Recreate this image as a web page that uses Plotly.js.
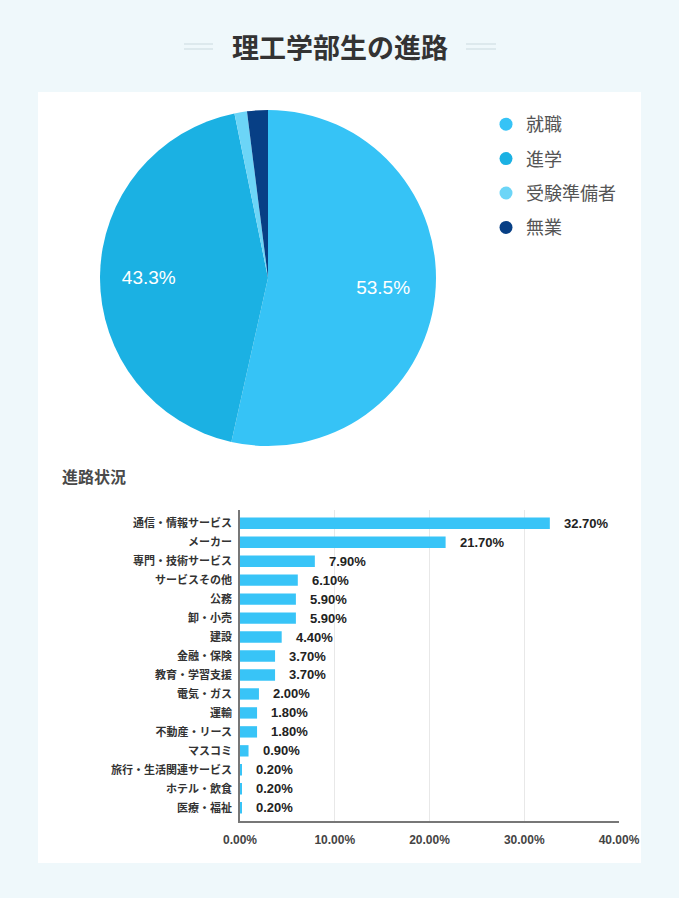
<!DOCTYPE html>
<html>
<head>
<meta charset="utf-8">
<script src="https://cdn.plot.ly/plotly-3.0.1.min.js"></script>
<style>
html,body{margin:0;padding:0;background:#eff8fb;}
#chart{width:679px;height:898px;}
</style>
</head>
<body>
<div id="chart"></div>
<script>
// ---- data ----
const chartTitle = "理工学部生の進路";
const pieLabels = ["就職", "進学", "受験準備者", "無業"];
const pieValues = [53.5, 43.3, 1.2, 2.0];
const pieText = ["53.5%", "43.3%", "", ""];
const pieColors = ["#36c3f6", "#1bb1e3", "#6cd5f7", "#073f85"];

const barTitle = "進路状況";
const barCategories = ["通信・情報サービス", "メーカー", "専門・技術サービス", "サービスその他", "公務", "卸・小売", "建設", "金融・保険", "教育・学習支援", "電気・ガス", "運輸", "不動産・リース", "マスコミ", "旅行・生活関連サービス", "ホテル・飲食", "医療・福祉"];
const barValues = [32.7, 21.7, 7.9, 6.1, 5.9, 5.9, 4.4, 3.7, 3.7, 2.0, 1.8, 1.8, 0.9, 0.2, 0.2, 0.2];
const barTickVals = [0, 10, 20, 30, 40];

// ---- layout helpers (pixel -> paper) ----
const W = 679, H = 898;
const fx = p => p / W;
const fy = p => 1 - p / H;
const JP = "Liberation Sans, Arial, Noto Sans CJK JP, sans-serif";

// push slice labels outward (padding with non-breaking spaces)
const NB = "\u00A0";
const padLeft = [12, 0, 0, 0];
const padRight = [0, 13, 0, 0];
const pieShownText = pieText.map((t, i) => t ? NB.repeat(padLeft[i]) + t + NB.repeat(padRight[i]) : t);

const traces = [];

traces.push({
  type: "pie",
  labels: pieLabels,
  values: pieValues,
  text: pieShownText,
  textinfo: "text",
  textposition: "inside",
  insidetextorientation: "horizontal",
  sort: false,
  direction: "clockwise",
  rotation: 0,
  marker: {colors: pieColors, line: {width: 0}},
  textfont: {family: JP, size: 19, color: "#ffffff"},
  domain: {x: [fx(100), fx(436)], y: [fy(446), fy(110)]},
  showlegend: false,
  hoverinfo: "label+percent"
});

pieLabels.forEach((lab, i) => {
  traces.push({
    type: "scatter",
    mode: "markers",
    x: [null], y: [null],
    xaxis: "x2", yaxis: "y2",
    name: lab,
    legendgroup: "g" + i,
    marker: {color: pieColors[i], size: 13, symbol: "circle"},
    showlegend: true
  });
});

traces.push({
  type: "bar",
  orientation: "h",
  x: barValues,
  y: barCategories,
  marker: {color: "#38c4f7"},
  width: 0.6,
  showlegend: false,
  hovertemplate: "%{y}: %{x:.2f}%<extra></extra>"
});

const annotations = [
  {text: "<b>" + chartTitle + "</b>", x: 0.5, y: fy(47), xref: "paper", yref: "paper",
   xanchor: "center", yanchor: "middle", showarrow: false,
   font: {family: "Noto Sans CJK JP, sans-serif", size: 27, color: "#333333"}},
  {text: "<b>" + barTitle + "</b>", x: fx(60), y: fy(476), xref: "paper", yref: "paper",
   xanchor: "left", yanchor: "middle", showarrow: false,
   font: {family: "Noto Sans CJK JP, sans-serif", size: 16, color: "#4a4a4a"}}
];
barValues.forEach((v, i) => {
  annotations.push({
    text: v.toFixed(2) + "%", x: v, y: barCategories[i], xref: "x", yref: "y",
    xanchor: "left", yanchor: "middle", xshift: 12, showarrow: false,
    font: {family: JP, size: 13, color: "#222222", weight: "bold"}
  });
});

const lineCol = "#dde9ed";
const shapes = [
  {type: "rect", xref: "paper", yref: "paper", x0: fx(38), x1: fx(641), y0: fy(863), y1: fy(92),
   fillcolor: "#ffffff", line: {width: 0}, layer: "below"},
  {type: "line", xref: "paper", yref: "paper", x0: fx(184), x1: fx(213), y0: fy(44), y1: fy(44), line: {color: lineCol, width: 2}},
  {type: "line", xref: "paper", yref: "paper", x0: fx(184), x1: fx(213), y0: fy(49), y1: fy(49), line: {color: lineCol, width: 2}},
  {type: "line", xref: "paper", yref: "paper", x0: fx(466), x1: fx(496), y0: fy(44), y1: fy(44), line: {color: lineCol, width: 2}},
  {type: "line", xref: "paper", yref: "paper", x0: fx(466), x1: fx(496), y0: fy(49), y1: fy(49), line: {color: lineCol, width: 2}}
];

const layout = {
  width: W, height: H,
  margin: {l: 0, r: 0, t: 0, b: 0, pad: 0},
  paper_bgcolor: "#eff8fb",
  plot_bgcolor: "rgba(0,0,0,0)",
  font: {family: JP},
  showlegend: true,
  legend: {
    x: fx(486), y: fy(106), xanchor: "left", yanchor: "top",
    bgcolor: "rgba(0,0,0,0)",
    font: {family: "Noto Sans CJK JP, sans-serif", size: 18, color: "#555555"},
    tracegroupgap: 8,
    itemclick: false, itemdoubleclick: false
  },
  xaxis: {
    domain: [fx(240), fx(619)],
    range: [0, 40],
    tickvals: barTickVals,
    ticktext: barTickVals.map(v => v.toFixed(2) + "%"),
    showgrid: true, gridcolor: "#e8e8e8", gridwidth: 1,
    showline: true, linecolor: "#777777", linewidth: 1.5,
    zeroline: false,
    ticks: "outside", ticklen: 7, tickcolor: "rgba(0,0,0,0)",
    tickfont: {family: JP, size: 12, color: "#444444", weight: "bold"},
    anchor: "y", fixedrange: true
  },
  yaxis: {
    domain: [fy(821), fy(510)],
    type: "category",
    range: [15.7, -0.7],
    showline: true, linecolor: "#777777", linewidth: 1.5,
    showgrid: false, zeroline: false,
    ticks: "outside", ticklen: 4, tickcolor: "rgba(0,0,0,0)",
    tickfont: {family: "Noto Sans CJK JP, sans-serif", size: 11, color: "#333333", weight: "bold"},
    anchor: "x", fixedrange: true
  },
  xaxis2: {domain: [0.0, 0.05], visible: false, anchor: "y2"},
  yaxis2: {domain: [0.0, 0.05], visible: false, anchor: "x2"},
  annotations: annotations,
  shapes: shapes
};

Plotly.newPlot("chart", traces, layout, {displayModeBar: false, staticPlot: false});
</script>
</body>
</html>
